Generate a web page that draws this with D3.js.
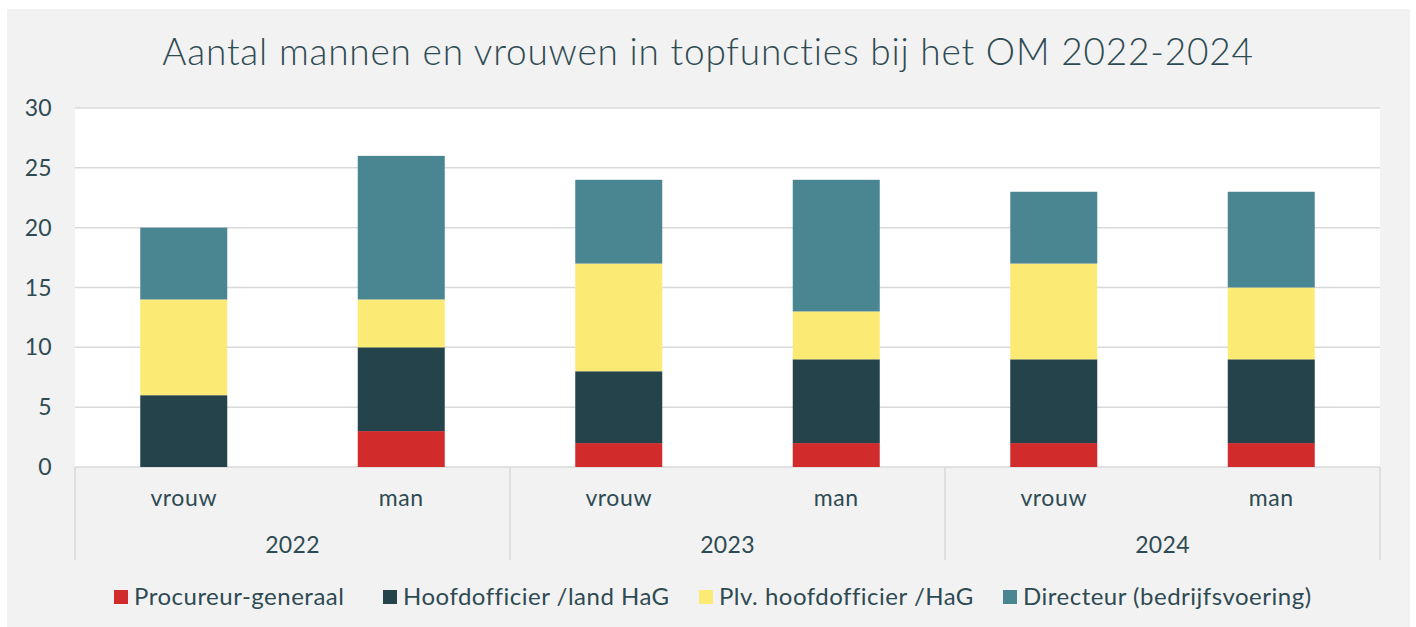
<!DOCTYPE html>
<html>
<head>
<meta charset="utf-8">
<script src="https://cdn.jsdelivr.net/npm/d3@7.9.0/dist/d3.min.js"></script>
<style>
  html, body { margin: 0; padding: 0; background: #ffffff; }
  svg { display: block; font-family: Lato, "Open Sans", sans-serif; }
</style>
</head>
<body>
<svg id="chart" width="1416" height="627"></svg>
<script>
// data
const years = ["2022", "2023", "2024"];
const genders = ["vrouw", "man"];
const series = ["Procureur-generaal", "Hoofdofficier /land HaG", "Plv. hoofdofficier /HaG", "Directeur (bedrijfsvoering)"];
const colors = ["#d22b2b", "#25434a", "#fbea74", "#4a8592"];
// order: 2022 vrouw, 2022 man, 2023 vrouw, 2023 man, 2024 vrouw, 2024 man
const procureur = [0, 3, 2, 2, 2, 2];
const hoofdofficier = [6, 7, 6, 7, 7, 7];
const plvHoofdofficier = [8, 4, 9, 4, 8, 6];
const directeur = [6, 12, 7, 11, 6, 8];
const yTicks = [0, 5, 10, 15, 20, 25, 30];

const textColor = "#2e4a52";
const gridColor = "#d9d9d9";

const rows = [];
years.forEach((yr, i) => genders.forEach((g, j) => {
  const k = i * 2 + j;
  rows.push({
    key: yr + "-" + g, year: yr, gender: g,
    "Procureur-generaal": procureur[k],
    "Hoofdofficier /land HaG": hoofdofficier[k],
    "Plv. hoofdofficier /HaG": plvHoofdofficier[k],
    "Directeur (bedrijfsvoering)": directeur[k]
  });
}));

const svg = d3.select("#chart");
const plotLeft = 75, plotRight = 1380, plotTop = 108, plotBottom = 467;

// background frame
svg.append("rect").attr("x", 7).attr("y", 9).attr("width", 1403).attr("height", 618).attr("fill", "#f2f2f2");
svg.append("rect").attr("x", plotLeft).attr("y", plotTop).attr("width", plotRight - plotLeft).attr("height", plotBottom - plotTop).attr("fill", "#ffffff");

const x = d3.scaleBand().domain(rows.map(d => d.key)).range([plotLeft, plotRight]).paddingInner(0.6).paddingOuter(0.3);
const xYear = d3.scaleBand().domain(years).range([plotLeft, plotRight]);
const y = d3.scaleLinear().domain([0, 30]).range([plotBottom, plotTop]);

// gridlines
svg.append("g").selectAll("line").data(yTicks).join("line")
  .attr("x1", plotLeft).attr("x2", plotRight)
  .attr("y1", d => y(d)).attr("y2", d => y(d))
  .attr("stroke", gridColor).attr("stroke-width", 1.5);

// y labels
svg.append("g").selectAll("text").data(yTicks).join("text")
  .attr("x", 52).attr("y", d => y(d)).attr("dy", "0.35em")
  .attr("text-anchor", "end").attr("font-size", 23)
  .attr("letter-spacing", 0.3).attr("fill", textColor)
  .text(d => d);

// stacked bars
const stack = d3.stack().keys(series)(rows);
svg.append("g").selectAll("g").data(stack).join("g")
  .attr("fill", (d, i) => colors[i])
  .selectAll("rect").data(d => d).join("rect")
  .attr("x", d => x(d.data.key))
  .attr("width", x.bandwidth())
  .attr("y", d => y(d[1]))
  .attr("height", d => y(d[0]) - y(d[1]));

// group separators
const seps = years.map(yr => xYear(yr)).concat([plotRight]);
svg.append("g").selectAll("line").data(seps).join("line")
  .attr("x1", d => d).attr("x2", d => d)
  .attr("y1", plotBottom).attr("y2", 560)
  .attr("stroke", gridColor).attr("stroke-width", 1.5);

// category labels
svg.append("g").selectAll("text").data(rows).join("text")
  .attr("x", d => x(d.key) + x.bandwidth() / 2).attr("y", 498).attr("dy", "0.35em")
  .attr("text-anchor", "middle").attr("font-size", 23)
  .attr("letter-spacing", 0.6).attr("fill", textColor)
  .text(d => d.gender);

svg.append("g").selectAll("text").data(years).join("text")
  .attr("x", d => xYear(d) + xYear.bandwidth() / 2).attr("y", 545).attr("dy", "0.35em")
  .attr("text-anchor", "middle").attr("font-size", 23)
  .attr("letter-spacing", 0.3).attr("fill", textColor)
  .text(d => d);

// title
svg.append("text").attr("x", 708).attr("y", 52).attr("dy", "0.35em")
  .attr("text-anchor", "middle").attr("font-size", 37).attr("font-weight", 300)
  .attr("letter-spacing", 0.8).attr("fill", textColor)
  .text("Aantal mannen en vrouwen in topfuncties bij het OM 2022-2024");

// legend
const legendX = [114, 383, 699, 1003];
const legend = svg.append("g").selectAll("g").data(series).join("g")
  .attr("transform", (d, i) => `translate(${legendX[i]},597)`);
legend.append("rect").attr("x", 0).attr("y", -7).attr("width", 14).attr("height", 14)
  .attr("fill", (d, i) => colors[i]);
legend.append("text").attr("x", 20).attr("y", 0).attr("dy", "0.35em")
  .attr("font-size", 24).attr("letter-spacing", 0.5)
  .attr("fill", textColor).text(d => d);
</script>
</body>
</html>
